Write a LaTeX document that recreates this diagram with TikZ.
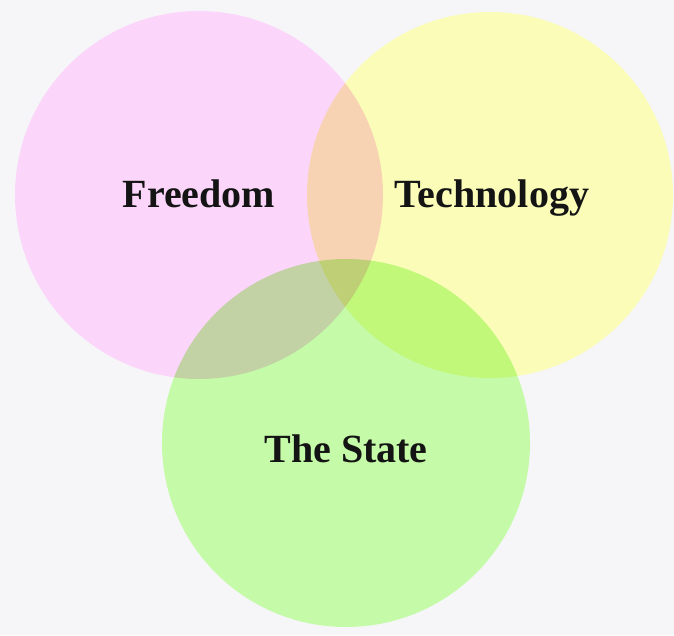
\documentclass[tikz,border=0pt]{standalone}
\usepackage{fontspec}
\setmainfont{Liberation Serif}
\definecolor{paper}{RGB}{246,246,249}
\definecolor{freedomcol}{RGB}{252,214,250}
\definecolor{techcol}{RGB}{250,252,184}
\definecolor{statecol}{RGB}{197,251,168}
\begin{document}
\begin{tikzpicture}[x=1pt,y=1pt,
  word/.style={font=\bfseries\fontsize{40}{40}\selectfont,text=black!92,anchor=base,inner sep=0pt}]
\fill[paper] (0,0) rectangle (674,635);

\begin{scope}[blend group=multiply]
\fill[freedomcol] (199,440) circle (184);
\fill[techcol] (490,440) circle (183);
\fill[statecol] (346,192) circle (184);
\end{scope}

\node[word](freedom) at (199,427) {Freedom};
\node[word](technology) at (492,427) {Technology};
\node[word](state) at (346,173) {The State};
\end{tikzpicture}
\end{document}
